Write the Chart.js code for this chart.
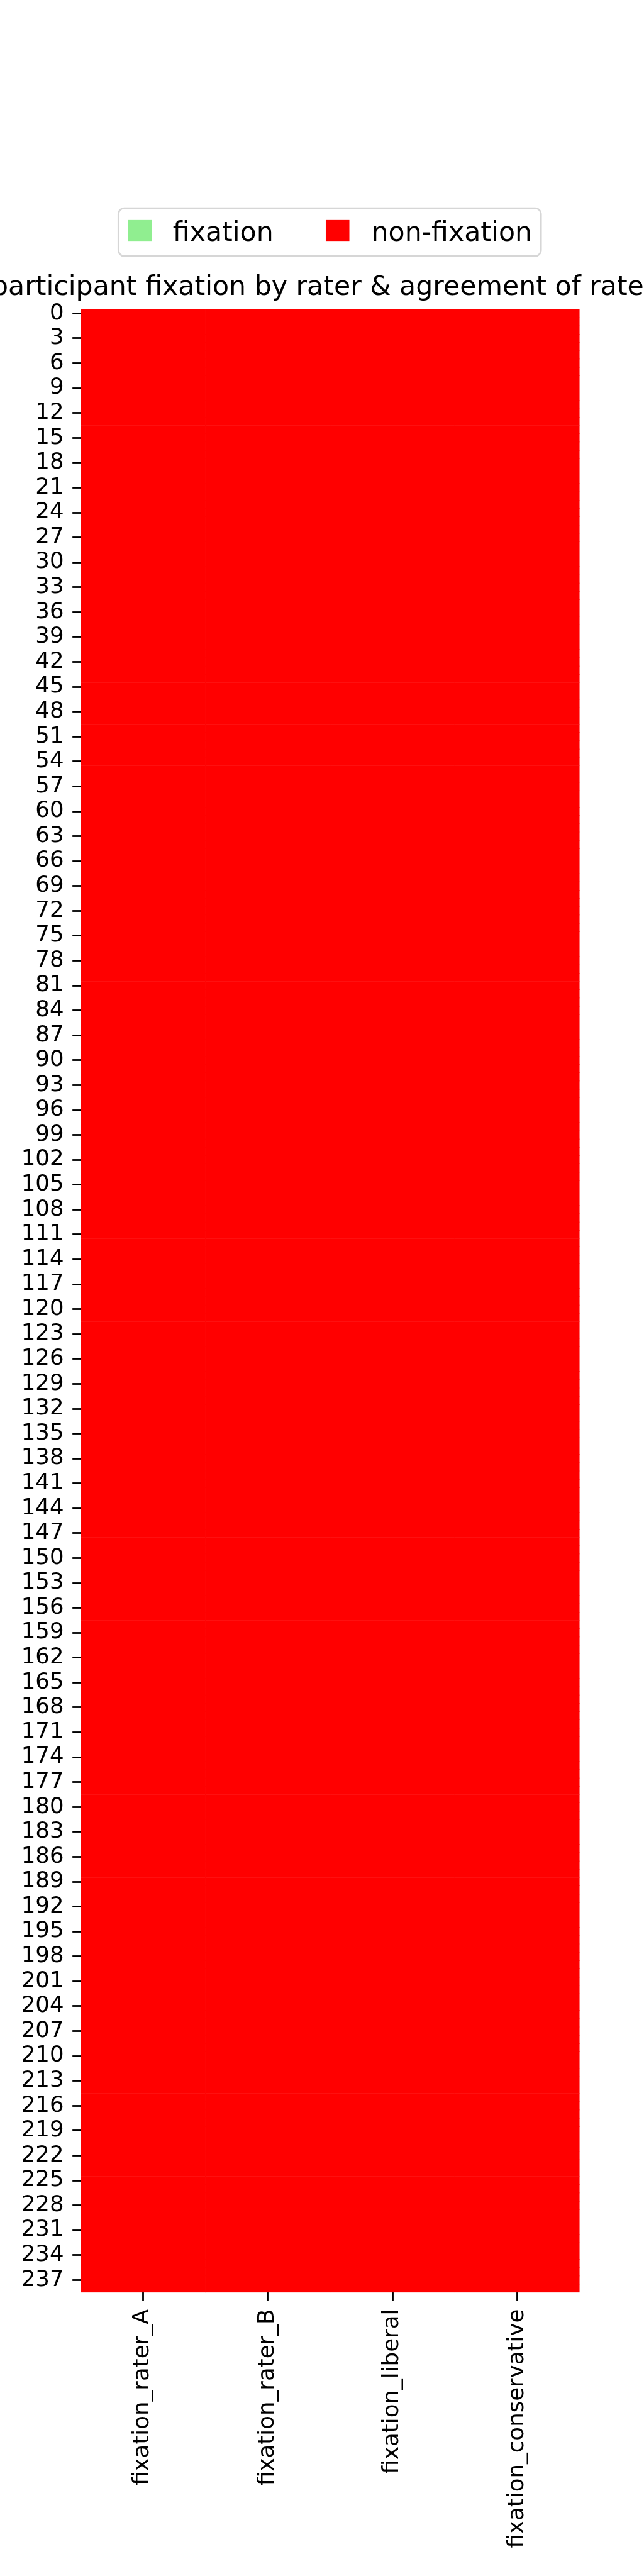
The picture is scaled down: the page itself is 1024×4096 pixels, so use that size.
<!DOCTYPE html>
<html>
<head>
<meta charset="utf-8">
<script src="https://cdn.jsdelivr.net/npm/chart.js@4.4.0/dist/chart.umd.min.js"></script>
<style>
  html, body { margin: 0; padding: 0; background: #fff; }
  #wrap { width: 1024px; height: 4096px; }
</style>
</head>
<body>
<div id="wrap"><canvas id="heat" width="1024" height="4096"></canvas></div>
<script>
// one entry per participant (239 rows), 1 = fixation, 0 = non-fixation
const fixation_rater_A = [
  0,0,0,0,0,0,0,0,0,0, 0,0,0,0,0,0,0,0,0,0,
  0,0,0,0,0,0,0,0,0,0, 0,0,0,0,0,0,0,0,0,0,
  0,0,0,0,0,0,0,0,0,0, 0,0,0,0,0,0,0,0,0,0,
  0,0,0,0,0,0,0,0,0,0, 0,0,0,0,0,0,0,0,0,0,
  0,0,0,0,0,0,0,0,0,0, 0,0,0,0,0,0,0,0,0,0,
  0,0,0,0,0,0,0,0,0,0, 0,0,0,0,0,0,0,0,0,0,
  0,0,0,0,0,0,0,0,0,0, 0,0,0,0,0,0,0,0,0,0,
  0,0,0,0,0,0,0,0,0,0, 0,0,0,0,0,0,0,0,0,0,
  0,0,0,0,0,0,0,0,0,0, 0,0,0,0,0,0,0,0,0,0,
  0,0,0,0,0,0,0,0,0,0, 0,0,0,0,0,0,0,0,0,0,
  0,0,0,0,0,0,0,0,0,0, 0,0,0,0,0,0,0,0,0,0,
  0,0,0,0,0,0,0,0,0,0, 0,0,0,0,0,0,0,0,0
];
const fixation_rater_B = [
  0,0,0,0,0,0,0,0,0,0, 0,0,0,0,0,0,0,0,0,0,
  0,0,0,0,0,0,0,0,0,0, 0,0,0,0,0,0,0,0,0,0,
  0,0,0,0,0,0,0,0,0,0, 0,0,0,0,0,0,0,0,0,0,
  0,0,0,0,0,0,0,0,0,0, 0,0,0,0,0,0,0,0,0,0,
  0,0,0,0,0,0,0,0,0,0, 0,0,0,0,0,0,0,0,0,0,
  0,0,0,0,0,0,0,0,0,0, 0,0,0,0,0,0,0,0,0,0,
  0,0,0,0,0,0,0,0,0,0, 0,0,0,0,0,0,0,0,0,0,
  0,0,0,0,0,0,0,0,0,0, 0,0,0,0,0,0,0,0,0,0,
  0,0,0,0,0,0,0,0,0,0, 0,0,0,0,0,0,0,0,0,0,
  0,0,0,0,0,0,0,0,0,0, 0,0,0,0,0,0,0,0,0,0,
  0,0,0,0,0,0,0,0,0,0, 0,0,0,0,0,0,0,0,0,0,
  0,0,0,0,0,0,0,0,0,0, 0,0,0,0,0,0,0,0,0
];
const fixation_liberal = [
  0,0,0,0,0,0,0,0,0,0, 0,0,0,0,0,0,0,0,0,0,
  0,0,0,0,0,0,0,0,0,0, 0,0,0,0,0,0,0,0,0,0,
  0,0,0,0,0,0,0,0,0,0, 0,0,0,0,0,0,0,0,0,0,
  0,0,0,0,0,0,0,0,0,0, 0,0,0,0,0,0,0,0,0,0,
  0,0,0,0,0,0,0,0,0,0, 0,0,0,0,0,0,0,0,0,0,
  0,0,0,0,0,0,0,0,0,0, 0,0,0,0,0,0,0,0,0,0,
  0,0,0,0,0,0,0,0,0,0, 0,0,0,0,0,0,0,0,0,0,
  0,0,0,0,0,0,0,0,0,0, 0,0,0,0,0,0,0,0,0,0,
  0,0,0,0,0,0,0,0,0,0, 0,0,0,0,0,0,0,0,0,0,
  0,0,0,0,0,0,0,0,0,0, 0,0,0,0,0,0,0,0,0,0,
  0,0,0,0,0,0,0,0,0,0, 0,0,0,0,0,0,0,0,0,0,
  0,0,0,0,0,0,0,0,0,0, 0,0,0,0,0,0,0,0,0
];
const fixation_conservative = [
  0,0,0,0,0,0,0,0,0,0, 0,0,0,0,0,0,0,0,0,0,
  0,0,0,0,0,0,0,0,0,0, 0,0,0,0,0,0,0,0,0,0,
  0,0,0,0,0,0,0,0,0,0, 0,0,0,0,0,0,0,0,0,0,
  0,0,0,0,0,0,0,0,0,0, 0,0,0,0,0,0,0,0,0,0,
  0,0,0,0,0,0,0,0,0,0, 0,0,0,0,0,0,0,0,0,0,
  0,0,0,0,0,0,0,0,0,0, 0,0,0,0,0,0,0,0,0,0,
  0,0,0,0,0,0,0,0,0,0, 0,0,0,0,0,0,0,0,0,0,
  0,0,0,0,0,0,0,0,0,0, 0,0,0,0,0,0,0,0,0,0,
  0,0,0,0,0,0,0,0,0,0, 0,0,0,0,0,0,0,0,0,0,
  0,0,0,0,0,0,0,0,0,0, 0,0,0,0,0,0,0,0,0,0,
  0,0,0,0,0,0,0,0,0,0, 0,0,0,0,0,0,0,0,0,0,
  0,0,0,0,0,0,0,0,0,0, 0,0,0,0,0,0,0,0,0
];

const columns = ['fixation_rater_A', 'fixation_rater_B', 'fixation_liberal', 'fixation_conservative'];
const cells = [fixation_rater_A, fixation_rater_B, fixation_liberal, fixation_conservative];
const rowLabels = fixation_rater_A.map((v, i) => String(i));
const legendLabels = ['fixation', 'non-fixation'];
const legendColors = ['#90ee90', '#ff0000'];
const titleText = 'participant fixation by rater & agreement of raters';

const S = 1024 / 1200; // reference is 1200 wide

Chart.defaults.font.family = '"DejaVu Sans", sans-serif';
Chart.defaults.color = '#000';

// one floating bar per cell, column c spans [c, c+1] on the x scale
const datasets = cells.map((col, c) => ({
  label: columns[c],
  data: col.map(() => [c, c + 1]),
  backgroundColor: col.map(v => v ? legendColors[0] : legendColors[1]),
  borderWidth: 0,
  barPercentage: 1,
  categoryPercentage: 1,
  grouped: false
}));

const decor = {
  id: 'decor',
  afterDraw(chart) {
    const ctx = chart.ctx;
    const area = chart.chartArea;
    ctx.save();
    // title, centred on the heatmap (wider than the figure, gets clipped)
    ctx.font = (50 * S) + 'px "DejaVu Sans"';
    ctx.fillStyle = '#000';
    ctx.textAlign = 'center';
    ctx.textBaseline = 'alphabetic';
    ctx.fillText(titleText, (area.left + area.right) / 2, 550 * S);

    // legend box
    ctx.beginPath();
    ctx.roundRect(220.7 * S, 388 * S, (1008 - 220.7) * S, (477 - 388) * S, 9);
    ctx.fillStyle = '#fff';
    ctx.fill();
    ctx.lineWidth = 2.8;
    ctx.strokeStyle = '#d6d6d6';
    ctx.stroke();

    const patchX = [239, 607];
    const textX = [322, 692];
    ctx.font = (50 * S) + 'px "DejaVu Sans"';
    ctx.textAlign = 'left';
    legendLabels.forEach((lab, i) => {
      ctx.fillStyle = legendColors[i];
      ctx.fillRect(patchX[i] * S, 410 * S, 44 * S, 39 * S);
      ctx.fillStyle = '#000';
      ctx.fillText(lab, textX[i] * S, 449 * S);
    });
    ctx.restore();
  }
};

new Chart(document.getElementById('heat'), {
  type: 'bar',
  data: { labels: rowLabels, datasets: datasets },
  options: {
    indexAxis: 'y',
    responsive: false,
    animation: false,
    devicePixelRatio: 1,
    layout: { padding: { top: 576.3 * S, left: 0, right: 1024 - 1080 * S, bottom: 0 } },
    plugins: { legend: { display: false }, title: { display: false }, tooltip: { enabled: false } },
    scales: {
      x: {
        type: 'linear',
        min: 0,
        max: columns.length,
        position: 'bottom',
        afterBuildTicks: ax => { ax.ticks = columns.map((n, i) => ({ value: i + 0.5 })); },
        afterFit: ax => { ax.height = 4096 - 4271.7 * S; },
        grid: { drawOnChartArea: false, drawTicks: true, tickLength: 15 * S, tickWidth: 3.3 * S, tickColor: '#000' },
        border: { display: false },
        ticks: {
          autoSkip: false,
          minRotation: 90,
          maxRotation: 90,
          padding: 16 * S,
          color: '#000',
          font: { size: 41.7 * S },
          callback: (v, i) => columns[i]
        }
      },
      y: {
        type: 'category',
        afterFit: ax => { ax.width = 150 * S; },
        grid: {
          offset: false,
          drawOnChartArea: false,
          drawTicks: true,
          tickLength: 15 * S,
          tickWidth: 3.3 * S,
          tickColor: c => (c.index % 3 === 0 ? '#000' : 'rgba(0,0,0,0)')
        },
        border: { display: false },
        ticks: {
          autoSkip: false,
          padding: 16 * S,
          color: '#000',
          font: { size: 41.7 * S },
          callback: function (v, i) { return i % 3 === 0 ? this.getLabelForValue(v) : ''; }
        }
      }
    }
  },
  plugins: [decor]
});
</script>
</body>
</html>
